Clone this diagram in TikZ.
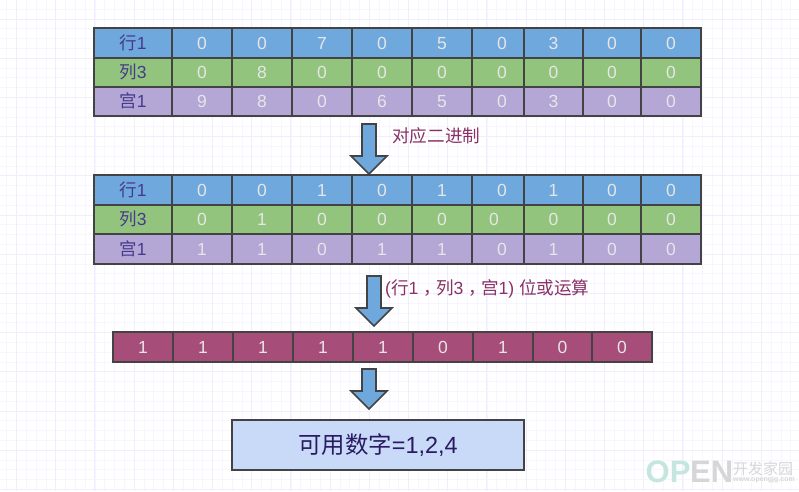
\documentclass[tikz,border=0pt]{standalone}
\usepackage{fontspec}
\setmainfont{Liberation Sans}
\newfontfamily\cjk{Noto Sans CJK SC}
\newcommand{\C}[1]{{\cjk #1}}
\newcommand{\Sh}[1]{\hspace*{#1pt}}
\definecolor{gridminor}{HTML}{F7F5FF}
\definecolor{gridmajor}{HTML}{F0EDFD}
\definecolor{cellblue}{HTML}{6FA8DC}
\definecolor{cellgreen}{HTML}{93C47D}
\definecolor{cellpurple}{HTML}{B4A7D6}
\definecolor{cellmaroon}{HTML}{A64D79}
\definecolor{boxblue}{HTML}{C9DAF8}
\definecolor{edgegrey}{HTML}{434343}
\definecolor{digit}{HTML}{E6E6E6}
\definecolor{headtext}{HTML}{463A8C}
\definecolor{boxtext}{HTML}{2A1A63}
\definecolor{notetext}{HTML}{8A3064}
\definecolor{wmteal}{HTML}{C4E6DC}
\definecolor{wmgrey}{HTML}{D6D6D6}
\tikzset{
  cellbox/.style={draw=edgegrey,line width=1.7pt,inner sep=0pt,outer sep=0pt,text=digit,text height=12.5pt,text depth=0pt,font=\fontsize{17.5pt}{19pt}\selectfont},
  blockarrow/.style={draw=edgegrey,fill=cellblue,line width=1.7pt,miter limit=6},
  note/.style={text=notetext,inner sep=0pt,anchor=west,font=\fontsize{17.6pt}{19pt}\selectfont},
  wmark/.style={inner sep=0pt,anchor=west},
}
\newcommand{\Head}[2]{\textcolor{headtext}{\C{#1}#2}}
% prefix, edge list, top, bottom, fill, values
\newcommand{\TableRow}[6]{%
  \foreach \t [count=\i] in {#6}{%
    \pgfmathsetmacro{\xa}{{#2}[int(\i-1)]}%
    \pgfmathsetmacro{\xb}{{#2}[int(\i)]}%
    \node[cellbox,fill=#5,minimum width={(\xb-\xa)*1pt},minimum height={(#4-#3)*1pt}]
      (#1c\i) at ({(\xa+\xb)/2},{(#3+#4)/2}) {\t};
  }%
}
\def\ColsA{94,172,232,292,352,412,472,524,583,641,701}
\def\ColsB{113,173,233,293,353,413,473,533,592,652}
\begin{document}
\begin{tikzpicture}[x=1pt,y=-1pt]
\useasboundingbox (0,0) rectangle (799,491);
\fill[white] (0,0) rectangle (799,491);
% background grid
\foreach \k in {0,...,81}{\draw[gridminor,line width=0.9pt] ({6.9+9.8*\k},0) -- ({6.9+9.8*\k},491);}
\foreach \k in {0,...,50}{\draw[gridminor,line width=0.9pt] (0,{9.2+9.8*\k}) -- (799,{9.2+9.8*\k});}
\foreach \k in {0,...,20}{\draw[gridmajor,line width=1pt] ({16.5+39.2*\k},0) -- ({16.5+39.2*\k},491);}
\foreach \k in {0,...,12}{\draw[gridmajor,line width=1pt] (0,{19+39.2*\k}) -- (799,{19+39.2*\k});}
% table 1
\TableRow{aa}{\ColsA}{28}{58}{cellblue}{\Head{行}{1},0,0,7,0,5,\Sh{8}0,3,0,0}
\TableRow{ab}{\ColsA}{58}{87}{cellgreen}{\Head{列}{3},0,8,0,0,0,\Sh{8}0,0,0,0}
\TableRow{ac}{\ColsA}{87}{116}{cellpurple}{\Head{宫}{1},9,8,0,6,5,\Sh{8}0,3,0,0}
% table 2
\TableRow{ba}{\ColsA}{175}{205}{cellblue}{\Head{行}{1},0,0,1,0,1,\Sh{8}0,1,0,0}
\TableRow{bb}{\ColsA}{205}{234}{cellgreen}{\Head{列}{3},0,1,0,0,0,\Sh{-8}0,0,0,0}
\TableRow{bc}{\ColsA}{234}{264}{cellpurple}{\Head{宫}{1},1,1,0,1,1,\Sh{8}0,1,0,0}
% result row
\TableRow{ca}{\ColsB}{332}{362}{cellmaroon}{1,1,1,1,1,0,1,0,0}
% block arrows
\draw[blockarrow] (362,124) -- (376,124) -- (376,156) -- (387,156) -- (369,174) -- (351,156) -- (362,156) -- cycle;
\draw[blockarrow] (367,276) -- (381,276) -- (381,308) -- (392,308) -- (374,326) -- (356,308) -- (367,308) -- cycle;
\draw[blockarrow] (362,369) -- (376,369) -- (376,391) -- (387,391) -- (369,409) -- (351,391) -- (362,391) -- cycle;
% notes
\node[note] (notea) at (392,136) {\C{对应二进制}};
\node[note] (noteb) at (385,289) {(\C{行}1\Sh{5}\C{，}\Sh{-5}\C{列}3\Sh{5}\C{，}\Sh{-5}\C{宫}1) \C{位或运算}};
% result box
\node[draw=edgegrey,fill=boxblue,line width=1.7pt,inner sep=0pt,outer sep=0pt,minimum width=292pt,minimum height=50pt,text=boxtext,font=\fontsize{23.4pt}{26pt}\selectfont] (result) at (378,445) {\C{可用数字}=1,2,4};
% watermark
\node[wmark,font=\fontsize{31pt}{34pt}\selectfont\bfseries,text=wmteal] (wma) at (645.5,472) {OP};
\node[wmark,font=\fontsize{31pt}{34pt}\selectfont\bfseries,text=wmgrey] (wmb) at (690,472) {EN};
\node[wmark,text=wmgrey,font=\fontsize{15pt}{16pt}\selectfont] (wmc) at (733,469) {\C{开发家园}};
\node[wmark,text=wmgrey,font=\fontsize{7pt}{8pt}\selectfont\bfseries] (wmd) at (733,480) {www.opengjg.com};
\end{tikzpicture}
\end{document}
